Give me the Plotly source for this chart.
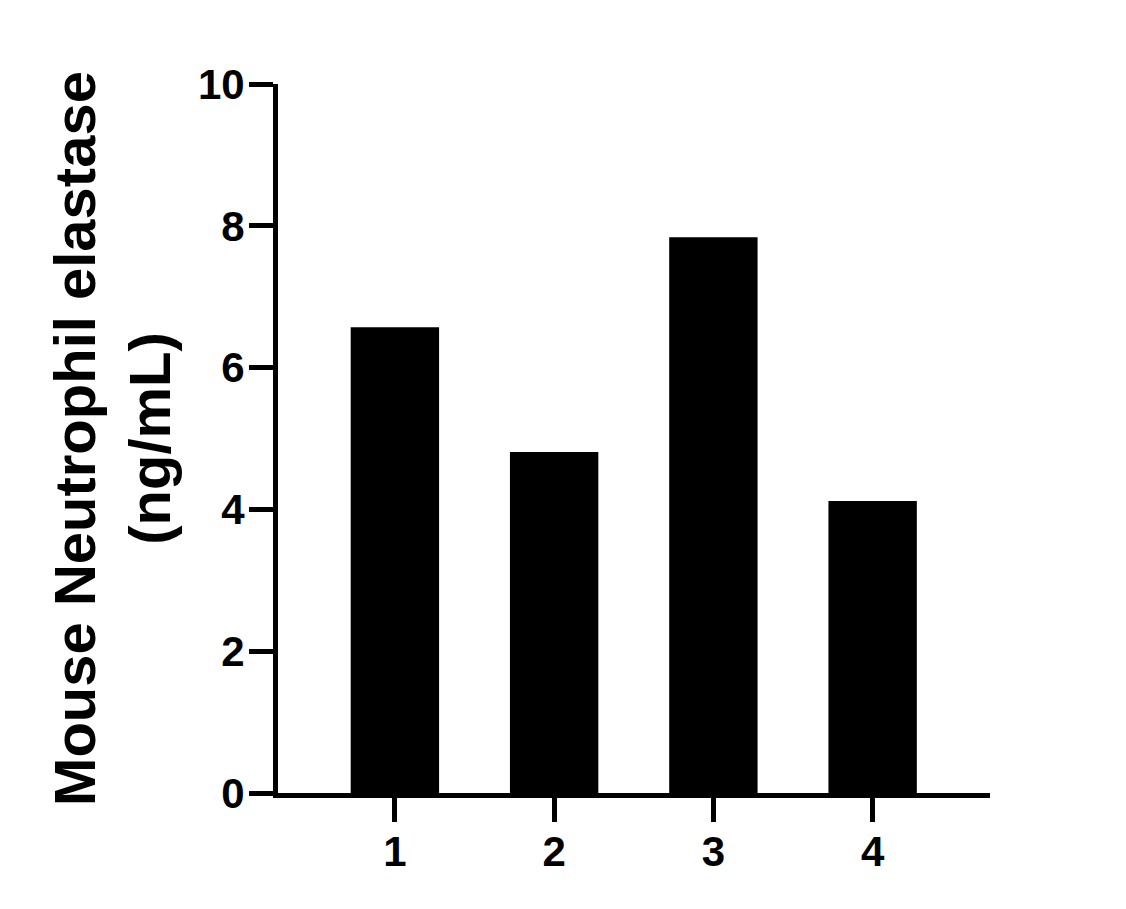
import plotly.graph_objects as go

categories = ["1", "2", "3", "4"]
values = [6.57, 4.81, 7.84, 4.12]
y_ticks = [0, 2, 4, 6, 8, 10]
y_title = "Mouse Neutrophil elastase<br>(ng/mL)"

FONT = "Liberation Sans, Arial, sans-serif"

fig = go.Figure(
    go.Bar(x=categories, y=values, marker=dict(color="black", line=dict(width=0)), width=0.555)
)

fig.update_layout(
    width=1126,
    height=909,
    margin=dict(l=270, r=144, t=76, b=124),
    plot_bgcolor="white",
    paper_bgcolor="white",
    showlegend=False,
    font=dict(family=FONT, color="black", weight="bold"),
)

fig.update_xaxes(
    type="category",
    range=[-0.734, 3.737],
    showline=True,
    linecolor="black",
    linewidth=5,
    ticks="outside",
    ticklen=24,
    tickwidth=5,
    tickcolor="black",
    ticklabelstandoff=-6,
    tickfont=dict(size=42, family=FONT, weight="bold", color="black"),
    showgrid=False,
    zeroline=False,
)

fig.update_yaxes(
    range=[0, 10],
    tickvals=y_ticks,
    showline=True,
    linecolor="black",
    linewidth=5,
    ticks="outside",
    ticklen=24,
    tickwidth=5,
    tickcolor="black",
    ticklabelstandoff=-4,
    tickfont=dict(size=42, family=FONT, weight="bold", color="black"),
    showgrid=False,
    zeroline=False,
    title=dict(text=y_title, font=dict(size=58, family=FONT, weight="bold", color="black"), standoff=10),
)

fig.write_html("out.html")
